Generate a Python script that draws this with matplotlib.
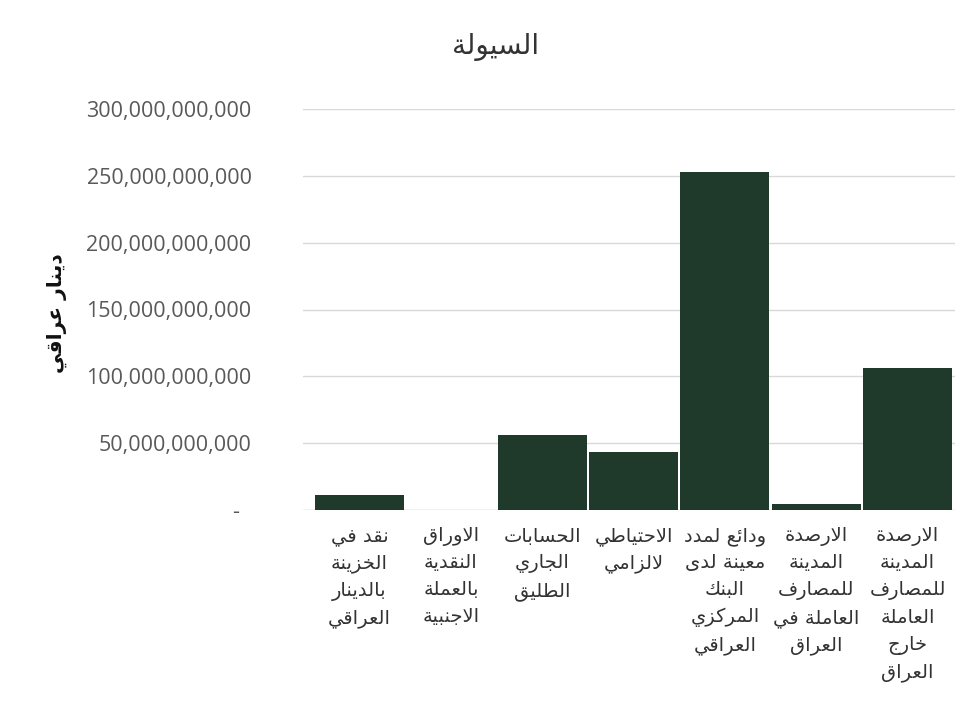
import matplotlib
matplotlib.use("Agg")
import matplotlib.pyplot as plt
from matplotlib.ticker import FuncFormatter, MultipleLocator

# ---- data -------------------------------------------------------------
title_text = "السيولة"
y_label_text = "دينار عراقي"
categories = [
    "نقد في\nالخزينة\nبالدينار\nالعراقي",
    "الاوراق\nالنقدية\nبالعملة\nالاجنبية",
    "الحسابات\nالجاري\nالطليق",
    "الاحتياطي\nلالزامي",
    "ودائع لمدد\nمعينة لدى\nالبنك\nالمركزي\nالعراقي",
    "الارصدة\nالمدينة\nللمصارف\nالعاملة في\nالعراق",
    "الارصدة\nالمدينة\nللمصارف\nالعاملة\nخارج\nالعراق",
]
values = [11.0e9, 0.0, 56.0e9, 43.5e9, 253.0e9, 4.6e9, 106.0e9]
y_max = 300e9
y_step = 50e9

# ---- Arabic shaping (contextual forms + right-to-left order) ----------
DUAL = {
    "ب": 0xFE8F, "ت": 0xFE95, "ث": 0xFE99, "ج": 0xFE9D, "ح": 0xFEA1,
    "خ": 0xFEA5, "س": 0xFEB1, "ش": 0xFEB5, "ص": 0xFEB9, "ض": 0xFEBD,
    "ط": 0xFEC1, "ظ": 0xFEC5, "ع": 0xFEC9, "غ": 0xFECD, "ف": 0xFED1,
    "ق": 0xFED5, "ك": 0xFED9, "ل": 0xFEDD, "م": 0xFEE1, "ن": 0xFEE5,
    "ه": 0xFEE9, "ي": 0xFEF1, "ئ": 0xFE89,
}
RIGHT = {
    "ا": 0xFE8D, "د": 0xFEA9, "ذ": 0xFEAB, "ر": 0xFEAD, "ز": 0xFEAF,
    "و": 0xFEED, "ة": 0xFE93, "ى": 0xFEEF, "آ": 0xFE81, "أ": 0xFE83,
    "إ": 0xFE87, "ؤ": 0xFE85,
}
LAM_ALEF = {"ا": 0xFEFB, "أ": 0xFEF7, "إ": 0xFEF9, "آ": 0xFEF5}


def _joining(c):
    if c in DUAL:
        return "D"
    if c in RIGHT:
        return "R"
    return None


def shape_line(line):
    out = []
    n = len(line)
    i = 0
    while i < n:
        c = line[i]
        prev = line[i - 1] if i > 0 else None
        jt = _joining(c)
        joins_prev = prev is not None and _joining(prev) == "D" and jt is not None
        if c == "ل" and i + 1 < n and line[i + 1] in LAM_ALEF:
            base = LAM_ALEF[line[i + 1]]
            out.append(chr(base + 1 if joins_prev else base))
            i += 2
            continue
        if jt is None:
            out.append(c)
            i += 1
            continue
        nxt = line[i + 1] if i + 1 < n else None
        if jt == "R":
            out.append(chr(RIGHT[c] + (1 if joins_prev else 0)))
        else:
            joins_next = nxt is not None and _joining(nxt) is not None
            if joins_prev and joins_next:
                off = 3
            elif joins_prev:
                off = 1
            elif joins_next:
                off = 2
            else:
                off = 0
            out.append(chr(DUAL[c] + off))
        i += 1
    return "".join(out)[::-1]


def shape(text):
    return "\n".join(shape_line(l) for l in text.split("\n"))


# ---- figure -----------------------------------------------------------
plt.rcParams["font.family"] = ["DejaVu Sans"]
W, H = 973, 705
fig = plt.figure(figsize=(W / 100, H / 100), dpi=100)
fig.patch.set_facecolor("white")

ax = fig.add_axes([303 / W, 1 - 510 / H, (955 - 303) / W, (510 - 109) / H])
x = list(range(len(categories)))
ax.bar(x, values, width=0.975, color="#1f3a2b", zorder=3)

ax.set_xlim(-0.62, 6.52)
ax.set_ylim(0, y_max)
ax.yaxis.set_major_locator(MultipleLocator(y_step))
ax.yaxis.set_major_formatter(
    FuncFormatter(lambda v, p: "-  " if v == 0 else f"{v:,.0f}")
)
ax.grid(axis="y", color="#d9d9d9", linewidth=1.0, zorder=0)
ax.axhline(0, color="#d9d9d9", linewidth=1.0, zorder=2)
for s in ax.spines.values():
    s.set_visible(False)

ax.tick_params(axis="y", length=0, pad=37, labelsize=15.5, labelcolor="#595959")
for lbl in ax.get_yticklabels():
    lbl.set_fontfamily(["Open Sans", "DejaVu Sans"])

ax.set_xticks(x)
ax.set_xticklabels([shape(c) for c in categories], fontsize=14,
                   color="#333333", linespacing=1.52, multialignment="center")
ax.tick_params(axis="x", length=0, pad=12)

fig.text(496 / W, 1 - 47 / H, shape(title_text), ha="center", va="center",
         fontsize=20, color="#333333")
fig.text(57 / W, 1 - 313 / H, shape(y_label_text), ha="center", va="center",
         rotation=90, fontsize=14.5, fontweight="bold", color="#111111")

fig.savefig("out.png", dpi=100, facecolor="white")
